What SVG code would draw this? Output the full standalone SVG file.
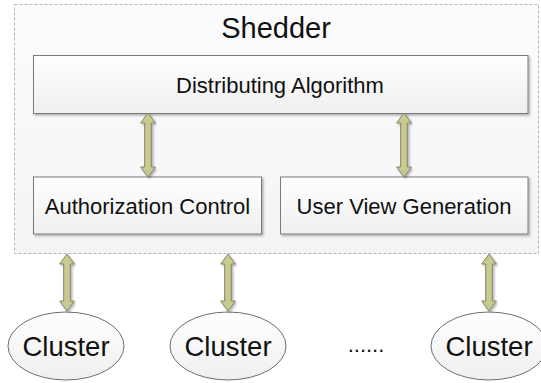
<svg xmlns="http://www.w3.org/2000/svg" width="541" height="383" viewBox="0 0 541 383">
<defs>
<linearGradient id="boxg" x1="0" y1="0" x2="0" y2="1">
<stop offset="0" stop-color="#ffffff"/>
<stop offset="1" stop-color="#efefef"/>
</linearGradient>
<linearGradient id="outg" x1="0" y1="0" x2="0" y2="1">
<stop offset="0" stop-color="#fbfcfd"/>
<stop offset="1" stop-color="#f4f4f4"/>
</linearGradient>
<filter id="sh" x="-10%" y="-10%" width="120%" height="130%">
<feDropShadow dx="1.5" dy="1.5" stdDeviation="1" flood-color="#000" flood-opacity="0.3"/>
</filter>
</defs>
<style>
.outer{fill:url(#outg);stroke:#b4b4b4;stroke-width:1;stroke-dasharray:3 2}
.box{fill:url(#boxg);stroke:#7a7a7a;stroke-width:1;filter:url(#sh)}
.ell{fill:url(#boxg);stroke:#6e6e6e;stroke-width:1}
.arr{fill:#c8cb8f;stroke:#84846a;stroke-width:1;stroke-linejoin:miter;filter:url(#sh)}
text{font-family:"Liberation Sans",Arial,sans-serif;fill:#111;text-anchor:middle}
.t1{font-size:29px}
.t2{font-size:22px}
.t3{font-size:27.5px}
</style>
<g id="shedder">
<rect class="outer" x="14.5" y="4.5" width="524" height="249"/>
<text class="t1" x="276" y="38">Shedder</text>
</g>
<g id="distributing-algorithm">
<rect class="box" x="33.5" y="55.5" width="494.5" height="58"/>
<text class="t2" x="280" y="93">Distributing Algorithm</text>
</g>
<g id="authorization-control">
<rect class="box" x="33.5" y="177" width="228" height="57"/>
<text class="t2" x="147.5" y="214">Authorization Control</text>
</g>
<g id="user-view-generation">
<rect class="box" x="280.5" y="177" width="247.5" height="57"/>
<text class="t2" x="404" y="214">User View Generation</text>
</g>
<g id="cluster1">
<ellipse class="ell" cx="66" cy="346" rx="58" ry="34"/>
<text class="t3" x="66" y="356">Cluster</text>
</g>
<g id="cluster2">
<ellipse class="ell" cx="228" cy="346" rx="58" ry="34"/>
<text class="t3" x="228" y="356">Cluster</text>
</g>
<g id="ellipsis">
<text class="t2" x="366" y="352" font-size="24">......</text>
</g>
<g id="cluster3">
<ellipse class="ell" cx="489" cy="346" rx="58" ry="34"/>
<text class="t3" x="489" y="356">Cluster</text>
</g>
<g id="connectors">
<path class="arr" d="M148,113 L155.3,123 L151.3,123 L151.3,167 L155.3,167 L148,177 L140.7,167 L144.7,167 L144.7,123 L140.7,123 Z"/>
<path class="arr" d="M404,113 L411.3,123 L407.3,123 L407.3,167 L411.3,167 L404,177 L396.7,167 L400.7,167 L400.7,123 L396.7,123 Z"/>
<path class="arr" d="M67,254 L74.3,264 L70.3,264 L70.3,301 L74.3,301 L67,311 L59.7,301 L63.7,301 L63.7,264 L59.7,264 Z"/>
<path class="arr" d="M228,254 L235.3,264 L231.3,264 L231.3,301 L235.3,301 L228,311 L220.7,301 L224.7,301 L224.7,264 L220.7,264 Z"/>
<path class="arr" d="M489,254 L496.3,264 L492.3,264 L492.3,301 L496.3,301 L489,311 L481.7,301 L485.7,301 L485.7,264 L481.7,264 Z"/>
</g>
</svg>
